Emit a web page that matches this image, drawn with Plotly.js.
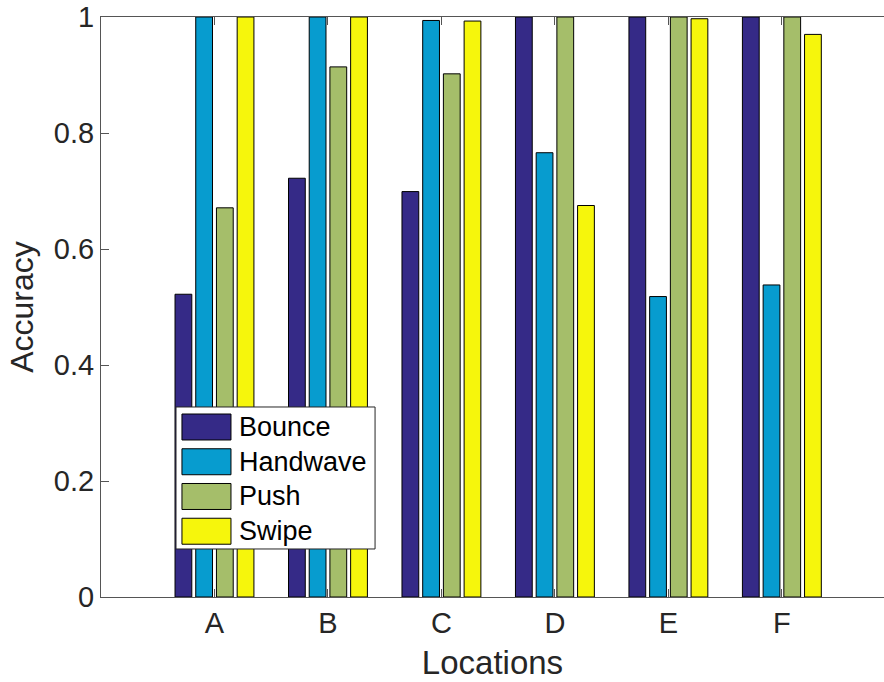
<!DOCTYPE html>
<html>
<head>
<meta charset="utf-8">
<script src="https://cdn.plot.ly/plotly-3.0.1.min.js"></script>
<style>html,body{margin:0;padding:0;background:#fff;}#chart{width:884px;height:682px;}</style>
</head>
<body>
<div id="chart"></div>
<script>
const locations = ["A", "B", "C", "D", "E", "F"];
const locationPositions = [1, 2, 3, 4, 5, 6];
const bounce   = [0.522, 0.722, 0.699, 1.0, 1.0, 1.0];
const handwave = [1.0, 1.0, 0.994, 0.766, 0.518, 0.538];
const push     = [0.671, 0.914, 0.902, 1.0, 1.0, 1.0];
const swipe    = [1.0, 1.0, 0.993, 0.675, 0.997, 0.970];
const seriesNames = ["Bounce", "Handwave", "Push", "Swipe"];
const seriesColors = ["#352a87", "#079ccf", "#a5be6a", "#f6f60c"];
const yTickVals = [0, 0.2, 0.4, 0.6, 0.8, 1];
const yTickText = ["0", "0.2", "0.4", "0.6", "0.8", "1"];

const seriesValues = [bounce, handwave, push, swipe];
const traces = seriesValues.map((vals, i) => ({
  type: "bar",
  name: seriesNames[i],
  x: locationPositions,
  y: vals,
  marker: { color: seriesColors[i], line: { color: "#000000", width: 1 } },
  hoverinfo: "x+y+name"
}));

const font = "Liberation Sans, Arial, Helvetica, sans-serif";

// MATLAB-style legend (large swatches), drawn in plot-area paper coordinates
const legBox = { x0: 0.0958, x1: 0.350, y0: 0.0828, y1: 0.3276 };
const legRowTop = 0.2931, legRowStep = 0.0599, swH = 0.0448;
const swX0 = 0.1034, swX1 = 0.1660, txtX = 0.1740;
const shapes = [{
  type: "rect", xref: "paper", yref: "paper",
  x0: legBox.x0, x1: legBox.x1, y0: legBox.y0, y1: legBox.y1,
  fillcolor: "#ffffff", line: { color: "#262626", width: 1 }, layer: "above"
}];
const annotations = [];
seriesNames.forEach((name, i) => {
  const yc = legRowTop - i * legRowStep;
  shapes.push({
    type: "rect", xref: "paper", yref: "paper",
    x0: swX0, x1: swX1, y0: yc - swH / 2, y1: yc + swH / 2,
    fillcolor: seriesColors[i], line: { color: "#000000", width: 1 }, layer: "above"
  });
  annotations.push({
    xref: "paper", yref: "paper", x: txtX, y: yc, xanchor: "left", yanchor: "middle",
    text: name, showarrow: false, font: { family: font, size: 27, color: "#000000" }
  });
});

const layout = {
  width: 884,
  height: 682,
  margin: { l: 101, r: 0, t: 17, b: 85 },
  paper_bgcolor: "#ffffff",
  plot_bgcolor: "#ffffff",
  barmode: "group",
  bargap: 0.27,
  bargroupgap: 0.19,
  showlegend: false,
  shapes: shapes,
  annotations: annotations,
  xaxis: {
    range: [0, 6.9],
    tickmode: "array",
    tickvals: locationPositions,
    ticktext: locations,
    ticks: "inside",
    ticklen: 8,
    tickcolor: "#555555",
    showline: true,
    linecolor: "#555555",
    linewidth: 1,
    mirror: "ticks",
    showgrid: false,
    zeroline: false,
    tickfont: { family: font, size: 29, color: "#262626" },
    title: { text: "Locations", font: { family: font, size: 33, color: "#262626" }, standoff: 13 }
  },
  yaxis: {
    range: [0, 1],
    tickmode: "array",
    tickvals: yTickVals,
    ticktext: yTickText,
    ticks: "inside",
    ticklen: 8,
    tickcolor: "#555555",
    showline: true,
    linecolor: "#555555",
    linewidth: 1,
    mirror: false,
    showgrid: false,
    zeroline: false,
    tickfont: { family: font, size: 29, color: "#262626" },
    title: { text: "Accuracy", font: { family: font, size: 32, color: "#262626" }, standoff: 10 }
  }
};

Plotly.newPlot("chart", traces, layout, { displayModeBar: false, staticPlot: true });
</script>
</body>
</html>
